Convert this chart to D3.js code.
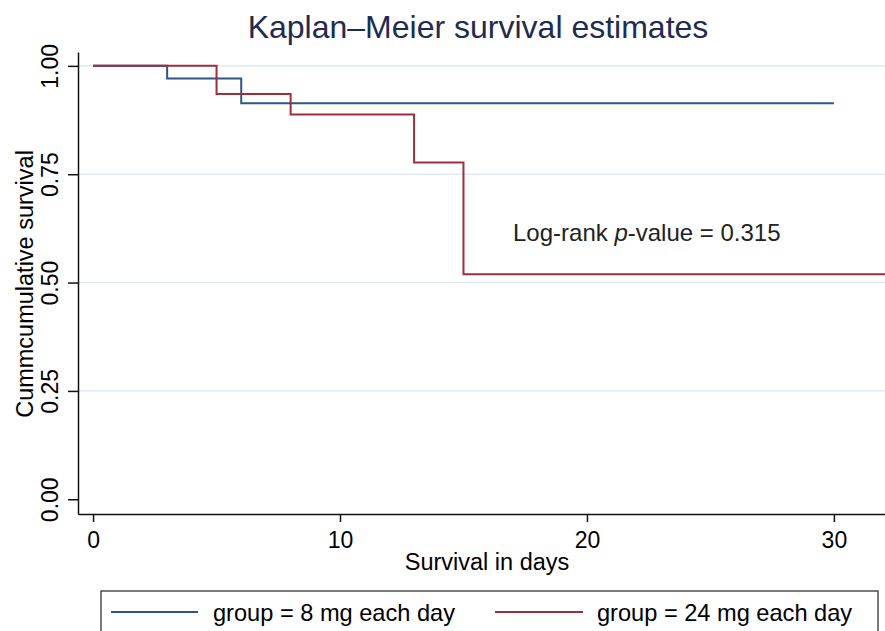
<!DOCTYPE html>
<html>
<head>
<meta charset="utf-8">
<script src="https://cdn.jsdelivr.net/npm/d3@7"></script>
<style>
  body { margin: 0; background: #fff; }
  svg { display: block; font-family: "Liberation Sans", Arial, sans-serif; }
</style>
</head>
<body>
<svg width="885" height="631"></svg>
<script>
// Kaplan-Meier step data
var daysLow = [0, 3, 6, 30];
var survLow = [1, 0.971, 0.914, 0.914];
var daysHigh = [0, 5, 8, 13, 15, 32.1];
var survHigh = [1, 0.935, 0.888, 0.777, 0.519, 0.519];
var groupNames = ["group = 8 mg each day", "group = 24 mg each day"];
var xTicks = [0, 10, 20, 30];
var yTicks = [0, 0.25, 0.5, 0.75, 1];
var pvalue = "0.315";

var colors = ["#2d5686", "#9d2f3c"];

var svg = d3.select("svg");

var x = d3.scaleLinear().domain([-0.61, 32.07]).range([78, 885]);
var y = d3.scaleLinear().domain([-0.034, 1.032]).range([514, 52]);

// title
svg.append("text")
   .attr("x", 478)
   .attr("y", 38)
   .attr("text-anchor", "middle")
   .attr("font-size", "32px")
   .attr("fill", "#202b52")
   .text("Kaplan\u2013Meier survival estimates");

// grid lines
svg.append("g")
   .selectAll("line")
   .data(yTicks.filter(function (d) { return d > 0; }))
   .enter()
   .append("line")
   .attr("x1", 79)
   .attr("x2", 885)
   .attr("y1", function (d) { return y(d); })
   .attr("y2", function (d) { return y(d); })
   .style("stroke", "#e2ecf0")
   .style("stroke-width", 1.6);

// x axis
var gx = svg.append("g")
   .attr("transform", "translate(0,514)")
   .call(d3.axisBottom(x).tickValues(xTicks).tickSize(8).tickSizeOuter(0).tickPadding(10));
gx.selectAll("text").attr("font-size", "23px").attr("fill", "#000").attr("font-family", "Liberation Sans, Arial, sans-serif");
gx.selectAll("line, path").style("stroke", "#111").style("stroke-width", 1.5);

svg.append("text")
   .attr("x", 487)
   .attr("y", 570)
   .attr("text-anchor", "middle")
   .attr("font-size", "23.5px")
   .text("Survival in days");

// y axis
var gy = svg.append("g")
   .attr("transform", "translate(78,0)")
   .call(d3.axisLeft(y).tickValues(yTicks).tickSize(10).tickSizeOuter(0).tickFormat(d3.format(".2f")));
gy.selectAll("text")
  .attr("transform", "rotate(-90)")
  .attr("x", 0)
  .attr("y", -20)
  .attr("dy", 0)
  .attr("text-anchor", "middle")
  .attr("font-size", "23px")
  .attr("fill", "#000")
  .attr("font-family", "Liberation Sans, Arial, sans-serif");
gy.selectAll("line, path").style("stroke", "#111").style("stroke-width", 1.5);

svg.append("text")
   .attr("transform", "translate(33,284) rotate(-90)")
   .attr("text-anchor", "middle")
   .attr("font-size", "23.5px")
   .text("Cummcumulative survival");

// survival curves
var line = d3.line()
   .curve(d3.curveStepAfter)
   .x(function (d) { return x(d[0]); })
   .y(function (d) { return y(d[1]); });

var curves = [d3.zip(daysLow, survLow), d3.zip(daysHigh, survHigh)];

svg.append("g")
   .selectAll("path")
   .data(curves)
   .enter()
   .append("path")
   .attr("d", line)
   .style("fill", "none")
   .style("stroke", function (d, i) { return colors[i]; })
   .style("stroke-width", 2);

// p-value note
var note = svg.append("text")
   .attr("x", 513)
   .attr("y", 241)
   .attr("font-size", "24px")
   .attr("fill", "#222");
note.append("tspan").text("Log-rank ");
note.append("tspan").attr("font-style", "italic").text("p");
note.append("tspan").text("-value = " + pvalue);

// legend
svg.append("rect")
   .attr("x", 101)
   .attr("y", 591)
   .attr("width", 777)
   .attr("height", 60)
   .style("fill", "#fff")
   .style("stroke", "#333")
   .style("stroke-width", 1.3);

var legendX = [[111, 198, 213], [495, 583, 597]];
var lg = svg.append("g")
   .selectAll("g")
   .data(groupNames)
   .enter()
   .append("g");
lg.append("line")
   .attr("x1", function (d, i) { return legendX[i][0]; })
   .attr("x2", function (d, i) { return legendX[i][1]; })
   .attr("y1", 612)
   .attr("y2", 612)
   .style("stroke", function (d, i) { return colors[i]; })
   .style("stroke-width", 2);
lg.append("text")
   .attr("x", function (d, i) { return legendX[i][2]; })
   .attr("y", 621)
   .attr("font-size", "23.6px")
   .attr("fill", "#000")
   .text(function (d) { return d; });
</script>
</body>
</html>
